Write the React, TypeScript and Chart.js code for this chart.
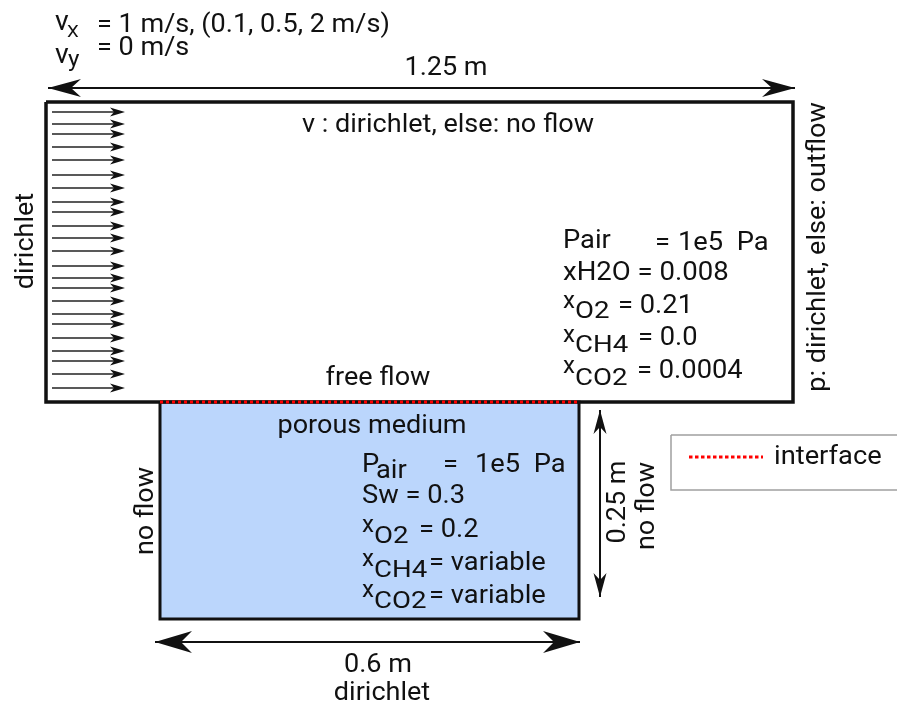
import React, { useEffect, useRef } from "react";
import { Chart, registerables } from "chart.js";

Chart.register(...registerables);

// ---- diagram geometry (diagram units, 1 unit = 1 px of the 897x702 sheet) ----
const VIEW_X = [0, 897];
const VIEW_Y = [0, 702];
const FREE_X = [46, 793];
const FREE_Y = [102, 402];
const POROUS_X = [160, 579];
const POROUS_Y = [402, 619];
const INFLOW_X = [52, 125];
const INFLOW_Y = [112, 124, 134, 147, 160, 175, 188, 202, 212, 226, 238, 251, 266, 278, 288, 301, 314, 324, 338, 351, 361, 374, 388];
const DIM_TOP = [48, 795, 88];
const DIM_BOTTOM = [155, 580, 642];
const DIM_RIGHT = [600, 410, 597];
const LEGEND_BOX_X = [671, 900];
const LEGEND_BOX_Y = [435, 490];
const LEGEND_LINE = [689, 763, 457];

// ---- labels (k = horizontal stretch of the glyphs) ----
const TOP_LABELS = [
  { t: "v", x: 55, y: 30, s: 27, k: 1.05 },
  { t: "X", x: 67, y: 37, s: 17, k: 1.1 },
  { t: "= 1 m/s, (0.1, 0.5, 2 m/s)", x: 97, y: 32, s: 26, k: 1.04 },
  { t: "v", x: 55, y: 63, s: 27, k: 1.05 },
  { t: "y", x: 68, y: 66, s: 22, k: 1.1 },
  { t: "= 0 m/s", x: 97, y: 55, s: 26, k: 1.04 },
];
const CENTER_LABELS = [
  { t: "1.25 m", x: 446, y: 75 },
  { t: "v : dirichlet, else: no flow", x: 448, y: 132 },
  { t: "free flow", x: 378, y: 385 },
  { t: "porous medium", x: 372, y: 433 },
  { t: "0.6 m", x: 378, y: 672 },
  { t: "dirichlet", x: 382, y: 700 },
];
const ROTATED_LABELS = [
  { t: "dirichlet", x: 33, y: 241 },
  { t: "p: dirichlet, else: outflow", x: 825, y: 247 },
  { t: "no flow", x: 153, y: 511 },
  { t: "0.25 m", x: 625, y: 502 },
  { t: "no flow", x: 654, y: 506 },
];
const FREE_LABELS = [
  { t: "Pair", x: 563, y: 248, s: 26, k: 1.05 },
  { t: "=", x: 655, y: 250, s: 26, k: 1.05 },
  { t: "1e5  Pa", x: 678, y: 250, s: 26, k: 1.05 },
  { t: "xH2O = 0.008", x: 563, y: 280, s: 26, k: 1.06 },
  { t: "x", x: 563, y: 308, s: 23, k: 1.05 },
  { t: "O2", x: 575, y: 318, s: 23, k: 1.2 },
  { t: "= 0.21", x: 618, y: 313, s: 26, k: 1.05 },
  { t: "x", x: 563, y: 342, s: 23, k: 1.05 },
  { t: "CH4", x: 575, y: 352, s: 23, k: 1.2 },
  { t: "= 0.0", x: 638, y: 345, s: 26, k: 1.05 },
  { t: "x", x: 563, y: 373, s: 23, k: 1.05 },
  { t: "CO2", x: 575, y: 385, s: 23, k: 1.2 },
  { t: "= 0.0004", x: 637, y: 378, s: 26, k: 1.05 },
];
const POROUS_LABELS = [
  { t: "P", x: 362, y: 472, s: 26, k: 1.05 },
  { t: "air", x: 376, y: 478, s: 26, k: 1.05 },
  { t: "=", x: 443, y: 472, s: 26, k: 1.05 },
  { t: "1e5  Pa", x: 475, y: 472, s: 26, k: 1.05 },
  { t: "Sw = 0.3", x: 362, y: 503, s: 26, k: 1.05 },
  { t: "x", x: 362, y: 532, s: 23, k: 1.05 },
  { t: "O2", x: 374, y: 543, s: 23, k: 1.2 },
  { t: "= 0.2", x: 419, y: 537, s: 26, k: 1.05 },
  { t: "x", x: 362, y: 566, s: 23, k: 1.05 },
  { t: "CH4", x: 374, y: 577, s: 23, k: 1.2 },
  { t: "= variable", x: 429, y: 570, s: 26, k: 1.05 },
  { t: "x", x: 362, y: 597, s: 23, k: 1.05 },
  { t: "CO2", x: 374, y: 608, s: 23, k: 1.2 },
  { t: "= variable", x: 429, y: 603, s: 26, k: 1.05 },
];
const LEGEND_LABEL = { t: "interface", x: 774, y: 464, s: 26, k: 1.05 };

const FONT = "Roboto, 'Noto Sans', sans-serif";
const INK = "#111111";
const MAIN_SIZE = 26;
const MAIN_STRETCH = 1.04;

function rect(xs: number[], ys: number[]) {
  return [
    { x: xs[0], y: ys[0] },
    { x: xs[1], y: ys[0] },
    { x: xs[1], y: ys[1] },
    { x: xs[0], y: ys[1] },
    { x: xs[0], y: ys[0] },
  ];
}

function lineDs(data: any[], color: string, width: number, extra: any = {}) {
  return {
    data,
    showLine: true,
    borderColor: color,
    borderWidth: width,
    pointRadius: 0,
    fill: false,
    tension: 0,
    ...extra,
  };
}

function drawHead(ctx: CanvasRenderingContext2D, tx: number, ty: number, dx: number, dy: number, L: number, W: number, k: number) {
  const nx = -dy, ny = dx;
  ctx.beginPath();
  ctx.moveTo(tx, ty);
  ctx.lineTo(tx - dx * L + nx * W, ty - dy * L + ny * W);
  ctx.lineTo(tx - dx * (L - k), ty - dy * (L - k));
  ctx.lineTo(tx - dx * L - nx * W, ty - dy * L - ny * W);
  ctx.closePath();
  ctx.fill();
}

function drawText(ctx: CanvasRenderingContext2D, t: string, x: number, y: number, size: number, k: number, rot: number) {
  ctx.save();
  ctx.translate(x, y);
  if (rot) ctx.rotate(rot);
  ctx.scale(k, 1);
  ctx.font = `${size}px ${FONT}`;
  ctx.fillText(t, 0, 0);
  ctx.restore();
}

const diagramPlugin = {
  id: "diagramOverlay",
  afterDatasetsDraw(chart: any) {
    const { ctx } = chart;
    const sx = chart.scales.x, sy = chart.scales.y;
    const px = (v: number) => sx.getPixelForValue(v);
    const py = (v: number) => sy.getPixelForValue(v);
    ctx.save();
    ctx.fillStyle = INK;
    // inflow arrowheads
    for (const yv of INFLOW_Y) drawHead(ctx, px(INFLOW_X[1]), py(yv), 1, 0, 15, 4.5, 4);
    // dimension arrowheads
    drawHead(ctx, px(DIM_TOP[0]), py(DIM_TOP[2]), -1, 0, 33, 9, 10);
    drawHead(ctx, px(DIM_TOP[1]), py(DIM_TOP[2]), 1, 0, 33, 9, 10);
    drawHead(ctx, px(DIM_BOTTOM[0]), py(DIM_BOTTOM[2]), -1, 0, 37, 11, 11);
    drawHead(ctx, px(DIM_BOTTOM[1]), py(DIM_BOTTOM[2]), 1, 0, 37, 11, 11);
    drawHead(ctx, px(DIM_RIGHT[0]), py(DIM_RIGHT[1]), 0, -1, 24, 6.5, 7);
    drawHead(ctx, px(DIM_RIGHT[0]), py(DIM_RIGHT[2]), 0, 1, 24, 6.5, 7);

    ctx.textBaseline = "alphabetic";
    ctx.textAlign = "left";
    const left = [...TOP_LABELS, ...FREE_LABELS, ...POROUS_LABELS, LEGEND_LABEL];
    for (const l of left) drawText(ctx, l.t, px(l.x), py(l.y), l.s, l.k, 0);
    ctx.textAlign = "center";
    for (const l of CENTER_LABELS) drawText(ctx, l.t, px(l.x), py(l.y), MAIN_SIZE, MAIN_STRETCH, 0);
    for (const l of ROTATED_LABELS) drawText(ctx, l.t, px(l.x), py(l.y), MAIN_SIZE, MAIN_STRETCH, -Math.PI / 2);
    ctx.restore();
  },
};

export default function App() {
  const ref = useRef<HTMLCanvasElement | null>(null);
  useEffect(() => {
    if (!ref.current) return;
    const datasets: any[] = [
      // porous fill
      lineDs(
        [
          { x: POROUS_X[0], y: POROUS_Y[0] },
          { x: POROUS_X[1], y: POROUS_Y[0] },
        ],
        "rgba(0,0,0,0)",
        0,
        { fill: { value: POROUS_Y[1] }, backgroundColor: "#bbd6fc", order: 20 }
      ),
      lineDs(rect(FREE_X, FREE_Y), INK, 3.5, { order: 10, borderJoinStyle: "miter" }),
      lineDs(rect(POROUS_X, POROUS_Y), INK, 3, { order: 9, borderJoinStyle: "miter" }),
      lineDs(
        [
          { x: POROUS_X[0], y: POROUS_Y[0] },
          { x: POROUS_X[1], y: POROUS_Y[0] },
        ],
        "#ff0000",
        3,
        { borderDash: [3, 3], order: 1 }
      ),
      lineDs(
        [
          { x: DIM_TOP[0], y: DIM_TOP[2] },
          { x: DIM_TOP[1], y: DIM_TOP[2] },
        ],
        INK,
        2,
        { order: 5 }
      ),
      lineDs(
        [
          { x: DIM_BOTTOM[0], y: DIM_BOTTOM[2] },
          { x: DIM_BOTTOM[1], y: DIM_BOTTOM[2] },
        ],
        INK,
        2,
        { order: 5 }
      ),
      lineDs(
        [
          { x: DIM_RIGHT[0], y: DIM_RIGHT[1] },
          { x: DIM_RIGHT[0], y: DIM_RIGHT[2] },
        ],
        INK,
        2,
        { order: 5 }
      ),
      lineDs(rect(LEGEND_BOX_X, LEGEND_BOX_Y), "#a0a0a0", 1.5, { order: 5 }),
      lineDs(
        [
          { x: LEGEND_LINE[0], y: LEGEND_LINE[2] },
          { x: LEGEND_LINE[1], y: LEGEND_LINE[2] },
        ],
        "#ff0000",
        3,
        { borderDash: [3.5, 2.5], order: 1 }
      ),
      ...INFLOW_Y.map((yv) =>
        lineDs(
          [
            { x: INFLOW_X[0], y: yv },
            { x: INFLOW_X[1] - 6, y: yv },
          ],
          "#222222",
          1.5,
          { order: 4 }
        )
      ),
    ];
    const chart = new Chart(ref.current, {
      type: "scatter",
      data: { datasets },
      options: {
        animation: false,
        responsive: false,
        maintainAspectRatio: false,
        layout: { padding: 0 },
        plugins: { legend: { display: false }, tooltip: { enabled: false }, title: { display: false } },
        events: [],
        scales: {
          x: { type: "linear", min: VIEW_X[0], max: VIEW_X[1], display: false },
          y: { type: "linear", min: VIEW_Y[0], max: VIEW_Y[1], reverse: true, display: false },
        },
      },
      plugins: [diagramPlugin],
    });
    return () => chart.destroy();
  }, []);
  return (
    <div style={{ position: "fixed", left: 0, top: 0, width: 897, height: 702, background: "#ffffff" }}>
      <canvas ref={ref} width={897} height={702} style={{ display: "block" }} />
    </div>
  );
}
